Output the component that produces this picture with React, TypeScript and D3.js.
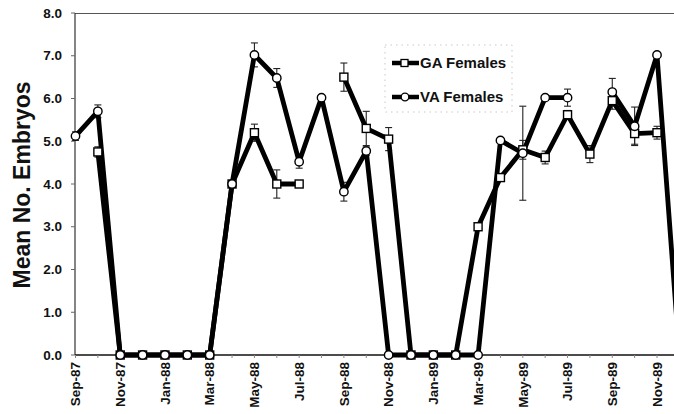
import React from "react";
import * as d3 from "d3";

const months = [
  "Sep-87","Oct-87","Nov-87","Dec-87","Jan-88","Feb-88","Mar-88","Apr-88","May-88","Jun-88",
  "Jul-88","Aug-88","Sep-88","Oct-88","Nov-88","Dec-88","Jan-89","Feb-89","Mar-89","Apr-89",
  "May-89","Jun-89","Jul-89","Aug-89","Sep-89","Oct-89","Nov-89","Dec-89",
];
const tickLabels = ["Sep-87","Nov-87","Jan-88","Mar-88","May-88","Jul-88","Sep-88","Nov-88","Jan-89","Mar-89","May-89","Jul-89","Sep-89","Nov-89"];
const yTicks = [0, 1, 2, 3, 4, 5, 6, 7, 8];

const gaValues: (number | null)[] = [
  null, 4.75, 0, 0, 0, 0, 0, 4.0, 5.2, 4.0,
  4.0, null, 6.5, 5.3, 5.05, 0, 0, 0, 3.0, 4.15,
  4.8, 4.62, 5.62, 4.7, 5.95, 5.18, 5.2, null,
];
const vaValues: (number | null)[] = [
  5.12, 5.7, 0, 0, 0, 0, 0, 4.0, 7.02, 6.48,
  4.52, 6.02, 3.82, 4.77, 0, 0, 0, 0, 0, 5.02,
  4.72, 6.02, 6.02, null, 6.15, 5.35, 7.02, 0,
];
const gaSE = [
  0, 0.12, 0, 0, 0, 0, 0, 0, 0.2, 0.33,
  0, 0, 0.33, 0.4, 0.27, 0, 0, 0, 0, 0,
  0.22, 0.15, 0.1, 0.2, 0.2, 0.25, 0.15, 0,
];
const vaSE = [
  0.1, 0.15, 0, 0, 0, 0, 0, 0, 0.28, 0.22,
  0.15, 0, 0.22, 0.1, 0, 0, 0, 0, 0, 0,
  1.1, 0, 0.2, 0, 0.32, 0.45, 0, 0,
];

const W = 674;
const H = 414;
const font = "Liberation Sans, Arial, Helvetica, sans-serif";

export default function App() {
  const x = d3.scaleLinear().domain([0, 26]).range([75.5, 657]);
  const y = d3.scaleLinear().domain([0, 8]).range([355, 13]);
  const line = d3
    .line<number | null>()
    .defined((d) => d !== null)
    .x((_, i) => x(i))
    .y((d) => y(d as number));

  const errBars = (vals: (number | null)[], se: number[], key: string) =>
    vals.map((v, i) => {
      if (v === null || !se[i]) return null;
      const cx = x(i);
      const y1 = y(v + se[i]);
      const y2 = y(v - se[i]);
      return (
        <g key={key + i} stroke="#222" strokeWidth={1.1}>
          <line x1={cx} x2={cx} y1={y1} y2={y2} />
          <line x1={cx - 3.5} x2={cx + 3.5} y1={y1} y2={y1} />
          <line x1={cx - 3.5} x2={cx + 3.5} y1={y2} y2={y2} />
        </g>
      );
    });

  return (
    <svg
      width={W}
      height={H}
      style={{ position: "absolute", left: 0, top: 0, background: "#fff" }}
      fontFamily={font}
    >
      <rect x={0} y={0} width={W} height={H} fill="#fff" />
      {/* frame */}
      <line x1={75} x2={W} y1={13.5} y2={13.5} stroke="#555" strokeWidth={1} />
      <line x1={75} x2={75} y1={13} y2={355} stroke="#333" strokeWidth={1.2} />
      <line x1={75} x2={W} y1={355} y2={355} stroke="#111" strokeWidth={1.3} />

      {/* y ticks and labels */}
      {yTicks.map((t) => (
        <g key={"y" + t}>
          <line x1={71} x2={75} y1={y(t)} y2={y(t)} stroke="#666" strokeWidth={1} />
          <text
            x={62}
            y={y(t)}
            dy="0.35em"
            textAnchor="end"
            fontSize={13.5}
            fontWeight="bold"
            fill="#111"
          >
            {t.toFixed(1)}
          </text>
        </g>
      ))}

      {/* x ticks and labels */}
      {months.map((m, i) =>
        x(i) <= W ? (
          <line key={"xt" + i} x1={x(i)} x2={x(i)} y1={355} y2={358} stroke="#888" strokeWidth={1} />
        ) : null
      )}
      {tickLabels.map((lab) => {
        const i = months.indexOf(lab);
        return (
          <text
            key={"xl" + lab}
            transform={`translate(${x(i)},362) rotate(-90)`}
            textAnchor="end"
            dy="0.35em"
            fontSize={13.5}
            fontWeight="bold"
            fill="#111"
          >
            {lab}
          </text>
        );
      })}

      {/* y title */}
      <text
        transform={`translate(30,185) rotate(-90)`}
        textAnchor="middle"
        fontSize={23}
        fontWeight="bold"
        fill="#111"
      >
        Mean No. Embryos
      </text>

      {/* error bars */}
      {errBars(gaValues, gaSE, "ge")}
      {errBars(vaValues, vaSE, "ve")}

      {/* lines */}
      <path d={line(gaValues) || ""} fill="none" stroke="#000" strokeWidth={4.8} strokeLinejoin="round" />
      <path d={line(vaValues) || ""} fill="none" stroke="#000" strokeWidth={4.8} strokeLinejoin="round" />

      {/* markers */}
      {gaValues.map((v, i) =>
        v === null ? null : (
          <rect
            key={"gm" + i}
            x={x(i) - 4}
            y={y(v) - 4}
            width={8}
            height={8}
            fill="#fff"
            stroke="#000"
            strokeWidth={1.4}
          />
        )
      )}
      {vaValues.map((v, i) =>
        v === null ? null : (
          <circle key={"vm" + i} cx={x(i)} cy={y(v)} r={4.2} fill="#fff" stroke="#000" strokeWidth={1.4} />
        )
      )}

      {/* legend */}
      <rect x={385} y={45} width={127} height={67} fill="#fff" stroke="#bbb" strokeWidth={0.8} strokeDasharray="1.5 4" />
      <line x1={392} x2={419} y1={63} y2={63} stroke="#000" strokeWidth={4.5} />
      <rect x={401} y={59.5} width={7} height={7} fill="#fff" stroke="#000" strokeWidth={1.3} />
      <text x={420} y={63} dy="0.35em" fontSize={15} fontWeight="bold" fill="#111">GA Females</text>
      <line x1={392} x2={419} y1={97} y2={97} stroke="#000" strokeWidth={4.5} />
      <circle cx={405} cy={97} r={3.8} fill="#fff" stroke="#000" strokeWidth={1.3} />
      <text x={420} y={97} dy="0.35em" fontSize={15} fontWeight="bold" fill="#111">VA Females</text>
    </svg>
  );
}
